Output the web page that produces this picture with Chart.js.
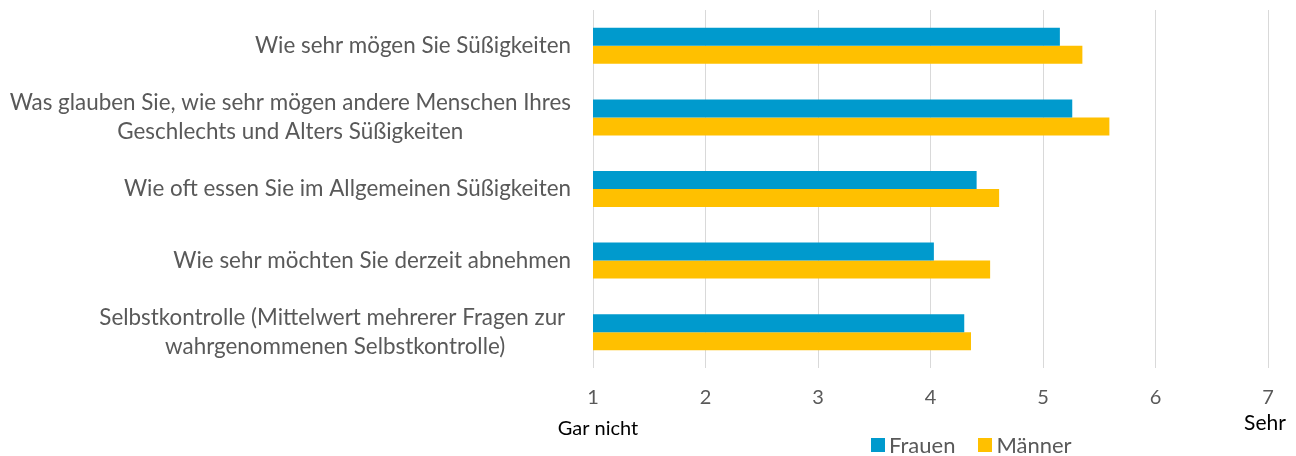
<!DOCTYPE html>
<html>
<head>
<meta charset="utf-8">
<script src="https://cdn.jsdelivr.net/npm/chart.js@4.4.1/dist/chart.umd.min.js"></script>
<style>
    html, body { margin: 0; padding: 0; background: #fff; }
    #wrap { position: relative; width: 1296px; height: 456px; }
    #legend {
        position: absolute; left: 871px; top: 432px;
        font: 22px Lato, sans-serif; color: #595959;
        display: flex; align-items: center; white-space: nowrap; line-height: 26px;
    }
    #legend .box { display: inline-block; width: 14px; height: 14px; margin-right: 4px; }
    #legend .item { display: inline-flex; align-items: center; margin-right: 23px; }
</style>
</head>
<body>
<div id="wrap">
    <canvas id="chart" width="1296" height="456"></canvas>
    <div id="legend"></div>
</div>
<script>
    // ── Data ──────────────────────────────────────────────────────────────
    const categories = [
        ['Wie sehr mögen Sie Süßigkeiten'],
        ['Was glauben Sie, wie sehr mögen andere Menschen Ihres', 'Geschlechts und Alters Süßigkeiten'],
        ['Wie oft essen Sie im Allgemeinen Süßigkeiten'],
        ['Wie sehr möchten Sie derzeit abnehmen'],
        ['Selbstkontrolle (Mittelwert mehrerer Fragen zur ', 'wahrgenommenen Selbstkontrolle)']
    ];
    const frauen = [5.15, 5.26, 4.41, 4.03, 4.30];
    const maenner = [5.35, 5.59, 4.61, 4.53, 4.36];
    const seriesNames = ['Frauen', 'Männer'];
    const xTicks = [1, 2, 3, 4, 5, 6, 7];
    const scaleEnds = ['Gar nicht', 'Sehr'];

    const COLORS = { frauen: '#009ACD', maenner: '#FFC000', text: '#595959', grid: '#d9d9d9' };
    const FONT = 'Lato, "Open Sans", sans-serif';

    /* ── Category labels: lines centred, block right-aligned ─────────── */
    const categoryLabels = {
        id: 'categoryLabels',
        afterDraw(chart) {
            const ctx = chart.ctx;
            const ys = chart.scales.y, xs = chart.scales.x;
            const right = xs.left - 22;
            const lineH = 29;
            ctx.save();
            ctx.font = '22.4px ' + FONT;
            ctx.fillStyle = COLORS.text;
            ctx.textAlign = 'center';
            ctx.textBaseline = 'middle';
            categories.forEach((lines, i) => {
                const y = ys.getPixelForValue(i);
                const w = Math.max(...lines.map(l => ctx.measureText(l).width));
                const cx = right - w / 2;
                lines.forEach((l, j) => {
                    ctx.fillText(l, cx, y + (j - (lines.length - 1) / 2) * lineH);
                });
            });
            ctx.restore();
        }
    };

    /* ── Scale end captions under 1 and 7 ─────────────────────────────── */
    const scaleCaptions = {
        id: 'scaleCaptions',
        afterDraw(chart) {
            const ctx = chart.ctx;
            const xs = chart.scales.x;
            const bottom = chart.chartArea.bottom;
            ctx.save();
            ctx.fillStyle = '#000';
            ctx.textAlign = 'center';
            ctx.textBaseline = 'middle';
            ctx.font = '20px ' + FONT;
            ctx.fillText(scaleEnds[0], xs.getPixelForValue(xTicks[0]) + 5, bottom + 61);
            ctx.font = '21px ' + FONT;
            ctx.fillText(scaleEnds[1], xs.getPixelForValue(xTicks[xTicks.length - 1]) - 3, bottom + 55);
            ctx.restore();
        }
    };

    new Chart(document.getElementById('chart'), {
        type: 'bar',
        data: {
            labels: categories,
            datasets: [
                { label: seriesNames[0], data: frauen, backgroundColor: COLORS.frauen },
                { label: seriesNames[1], data: maenner, backgroundColor: COLORS.maenner }
            ]
        },
        options: {
            indexAxis: 'y',
            responsive: false,
            animation: false,
            layout: { padding: { top: 10, right: 28, left: 0, bottom: 0 } },
            datasets: { bar: { barPercentage: 1, categoryPercentage: 0.503 } },
            plugins: { legend: { display: false }, tooltip: { enabled: false } },
            scales: {
                x: {
                    min: xTicks[0],
                    max: xTicks[xTicks.length - 1],
                    afterBuildTicks: s => { s.ticks = xTicks.map(v => ({ value: v })); },
                    afterFit: s => { s.height = 88; },
                    grid: { color: COLORS.grid, drawTicks: false },
                    border: { display: false },
                    ticks: { color: COLORS.text, font: { family: FONT, size: 20 }, padding: 18 }
                },
                y: {
                    afterFit: s => { s.width = 593; },
                    grid: { display: false },
                    border: { display: false },
                    ticks: { display: false }
                }
            }
        },
        plugins: [categoryLabels, scaleCaptions]
    });

    // HTML legend
    const legend = document.getElementById('legend');
    [COLORS.frauen, COLORS.maenner].forEach((c, i) => {
        const item = document.createElement('span');
        item.className = 'item';
        item.innerHTML = '<span class="box" style="background:' + c + '"></span>';
        item.appendChild(document.createTextNode(seriesNames[i]));
        legend.appendChild(item);
    });
</script>
</body>
</html>
